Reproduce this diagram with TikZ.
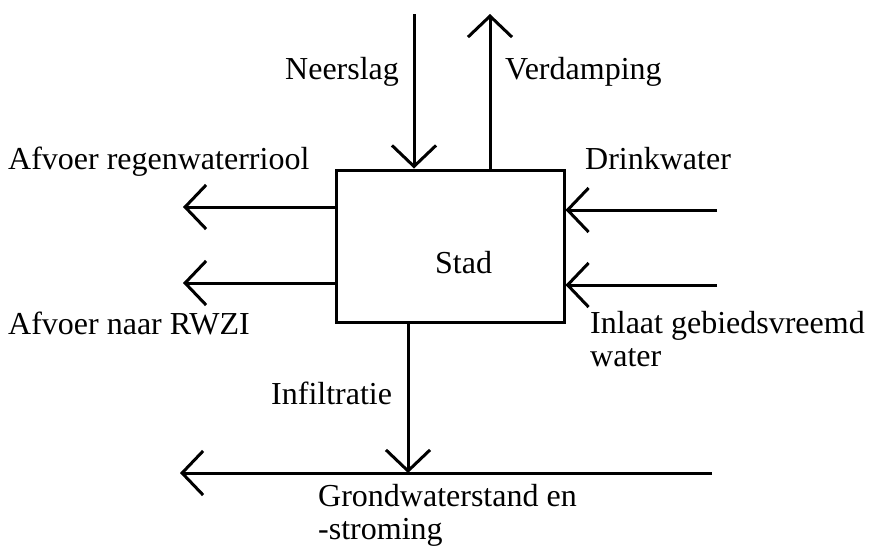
\documentclass[tikz,border=0pt]{standalone}
\usepackage{fontspec}
\setmainfont{Liberation Serif}
\usetikzlibrary{arrows.meta}
\begin{document}
\begin{tikzpicture}[x=1pt,y=-1pt,
  flow/.style={line width=3pt,-{Straight Barb[length=21pt,width=44pt,line width=3pt]}},
  citybox/.style={draw,line width=3pt,minimum width=228pt,minimum height=152pt,inner sep=0pt},
  lbl/.style={font=\fontsize{32}{33}\selectfont,inner sep=0pt,anchor=base west,align=left}]
\useasboundingbox (0,0) rectangle (870,547);

% the city box
\node[citybox] (stad) at (450,246) {};
\node[lbl] (stadtxt) at (435,273) {Stad};

% free ends of the flows
\coordinate (nTop) at (414,14);
\coordinate (vTop) at (490,14);
\coordinate (rOut) at (183,207);
\coordinate (wOut) at (183,283);
\coordinate (dIn) at (717,210);
\coordinate (iIn) at (717,285);
\coordinate (gw) at (408,473);
\coordinate (gwR) at (712,473);
\coordinate (gwL) at (180,473);

% vertical flows through the top
\draw[flow] (nTop) -- (nTop |- stad.north);
\draw[flow] (vTop |- stad.north) -- (vTop);
% outflows on the left
\draw[flow] (rOut -| stad.west) -- (rOut);
\draw[flow] (wOut -| stad.west) -- (wOut);
% inflows on the right
\draw[flow] (dIn) -- (dIn -| stad.east);
\draw[flow] (iIn) -- (iIn -| stad.east);
% infiltration into the groundwater
\draw[flow] (gw |- stad.south) -- (gw);
\draw[flow] (gwR) -- (gwL);

% labels (two-line labels are placed by the baseline of their last line)
\node[lbl] (neerslag) at (285,79) {Neerslag};
\node[lbl] (verdamping) at (505,79) {Verdamping};
\node[lbl] (regen) at (8,169) {Afvoer regenwaterriool};
\node[lbl] (drink) at (585,169) {Drinkwater};
\node[lbl] (rwzi) at (8,334) {Afvoer naar RWZI};
\node[lbl] (inlaat) at (590,366) {Inlaat gebiedsvreemd\\water};
\node[lbl] (infil) at (271,404) {Infiltratie};
\node[lbl] (grond) at (318,539) {Grondwaterstand en\\-stroming};
\end{tikzpicture}
\end{document}
